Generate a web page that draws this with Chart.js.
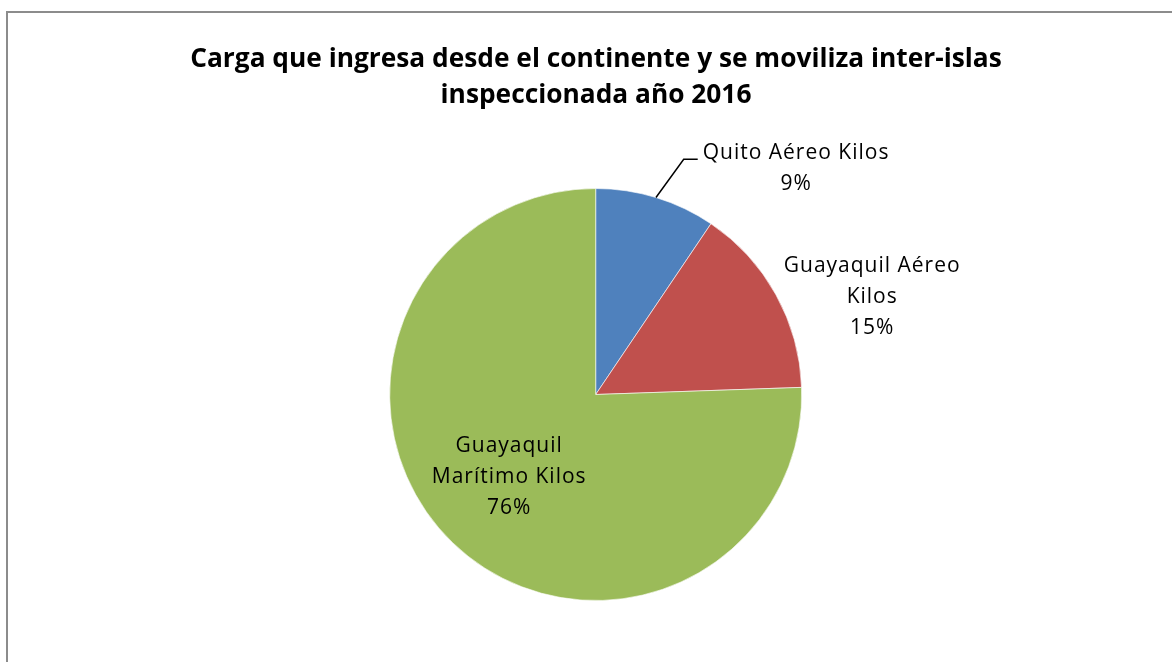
<!DOCTYPE html>
<html>
<head>
<meta charset="utf-8">
<script src="https://cdn.jsdelivr.net/npm/chart.js@4.4.1/dist/chart.umd.min.js"></script>
<style>
  html, body { margin: 0; padding: 0; background: #ffffff; }
  #wrap { width: 1172px; height: 662px; position: relative; }
</style>
</head>
<body>
<div id="wrap"><canvas id="c" width="1172" height="662"></canvas></div>
<script>
// ---- Data ----
const categories = ["Quito Aéreo Kilos", "Guayaquil Aéreo Kilos", "Guayaquil Marítimo Kilos"];
const labelLines = [["Quito Aéreo Kilos"], ["Guayaquil Aéreo", "Kilos"], ["Guayaquil", "Marítimo Kilos"]];
const shares = [9.45, 15.0, 75.55];
const sliceColors = ["#4F81BD", "#C0504D", "#9BBB59"];
const titleLines = ["Carga que ingresa desde el continente y se moviliza inter-islas", "inspeccionada año 2016"];

const TEXT_FONT = "'Open Sans', Lato, sans-serif";

const framePlugin = {
  id: 'frame',
  beforeDraw(chart) {
    const ctx = chart.ctx;
    ctx.save();
    ctx.fillStyle = '#ffffff';
    ctx.fillRect(0, 0, chart.width, chart.height);
    ctx.strokeStyle = '#8c8c8c';
    ctx.lineWidth = 2;
    ctx.beginPath();
    ctx.moveTo(7, chart.height + 5);
    ctx.lineTo(7, 12);
    ctx.lineTo(chart.width + 5, 12);
    ctx.stroke();
    // title
    ctx.fillStyle = '#000000';
    ctx.font = "bold 26.3px " + TEXT_FONT;
    ctx.textAlign = 'center';
    ctx.textBaseline = 'middle';
    ctx.fillText(titleLines[0], 596, 60);
    ctx.fillText(titleLines[1], 596, 96);
    ctx.restore();
  }
};

const labelPlugin = {
  id: 'sliceLabels',
  afterDatasetsDraw(chart, args, opts) {
    const ctx = chart.ctx;
    const meta = chart.getDatasetMeta(0);
    const data = chart.data.datasets[0].data;
    const total = data.reduce((a, b) => a + b, 0);
    ctx.save();
    ctx.font = "21px " + TEXT_FONT;
    if ('letterSpacing' in ctx) ctx.letterSpacing = '1px';
    ctx.fillStyle = '#000000';
    ctx.textAlign = 'center';
    ctx.textBaseline = 'middle';
    const lh = 31;
    meta.data.forEach((arc, i) => {
      const p = arc.getProps(['x', 'y', 'startAngle', 'endAngle', 'outerRadius'], true);
      const place = opts.placement[i];
      const a = (place.angle - 90) * Math.PI / 180;
      const cx = p.x + Math.cos(a) * p.outerRadius * place.dist;
      const cy = p.y + Math.sin(a) * p.outerRadius * place.dist;
      const lines = labelLines[i].concat([Math.round(data[i] / total * 100) + '%']);
      const y0 = cy - (lines.length - 1) * lh / 2;
      lines.forEach((t, k) => ctx.fillText(t, cx, y0 + k * lh));
      if (place.leader) {
        const mid = (p.startAngle + p.endAngle) / 2;
        const sx = p.x + Math.cos(mid) * p.outerRadius;
        const sy = p.y + Math.sin(mid) * p.outerRadius;
        const w = ctx.measureText(lines[0]).width;
        const ex = cx - w / 2 - 5;
        const ey = y0 + 6;
        ctx.strokeStyle = '#000000';
        ctx.lineWidth = 1.5;
        ctx.beginPath();
        ctx.moveTo(sx, sy);
        ctx.lineTo(ex - 14, ey);
        ctx.lineTo(ex, ey);
        ctx.stroke();
      }
    });
    ctx.restore();
  }
};

new Chart(document.getElementById('c'), {
  type: 'pie',
  data: {
    labels: categories,
    datasets: [{
      data: shares,
      backgroundColor: sliceColors,
      borderColor: '#ffffff',
      borderWidth: 0.6
    }]
  },
  options: {
    responsive: false,
    animation: false,
    layout: { padding: { top: 188.2, bottom: 61.2, left: 389.2, right: 369.8 } },
    plugins: {
      legend: { display: false },
      tooltip: { enabled: false },
      title: { display: false },
      sliceLabels: {
        placement: [
          { angle: 41.6, dist: 1.465, leader: true },
          { angle: 70.6, dist: 1.423 },
          { angle: 226.4, dist: 0.58 }
        ]
      }
    }
  },
  plugins: [framePlugin, labelPlugin]
});
</script>
</body>
</html>
